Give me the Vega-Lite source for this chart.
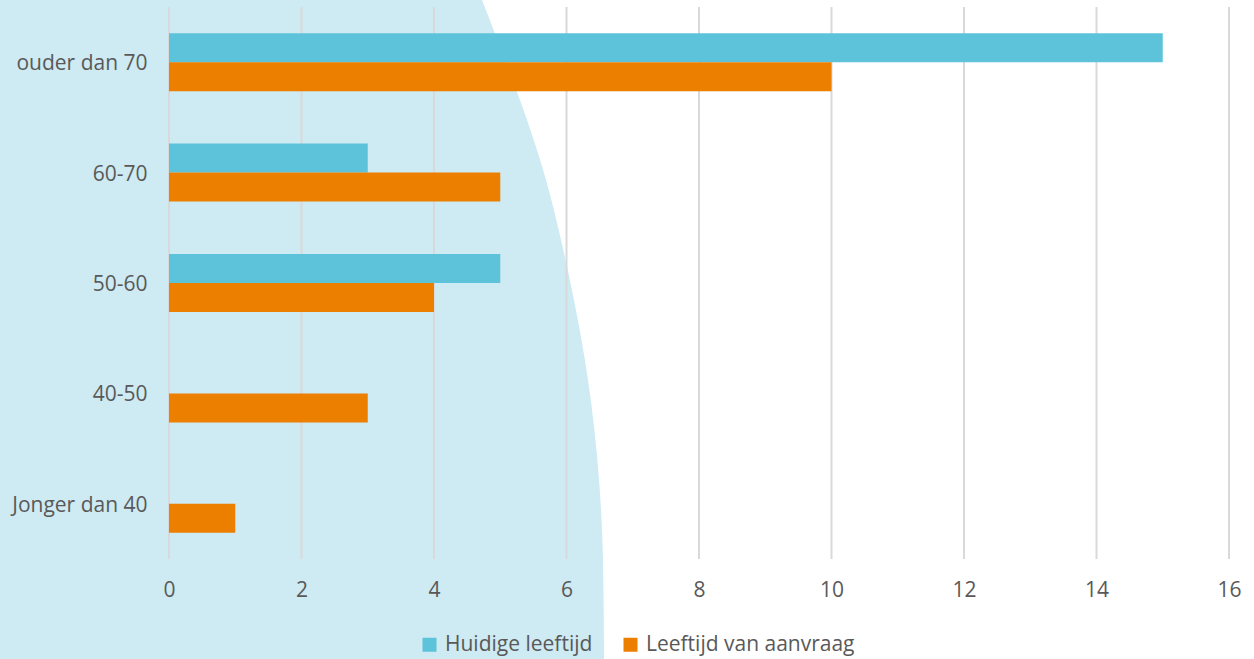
{
  "$schema": "https://vega.github.io/schema/vega-lite/v6.json",
  "width": 1060,
  "height": 552,
  "autosize": {"type": "none"},
  "padding": {"left": 169, "top": 7, "right": 25, "bottom": 100},
  "background": "white",
  "config": {"view": {"stroke": null}, "font": "Open Sans"},
  "datasets": {
    "shape": [
      {"h": 559, "edge": 4.725},
      {"h": 499, "edge": 5.072},
      {"h": 439, "edge": 5.404},
      {"h": 379, "edge": 5.691},
      {"h": 319, "edge": 5.917},
      {"h": 259, "edge": 6.113},
      {"h": 179, "edge": 6.325},
      {"h": 79, "edge": 6.491},
      {"h": -1, "edge": 6.551},
      {"h": -100, "edge": 6.566}
    ],
    "grid": [
      {"v": 0}, {"v": 2}, {"v": 4}, {"v": 6}, {"v": 8}, {"v": 10}, {"v": 12}, {"v": 14}, {"v": 16}
    ],
    "bars": [
      {"group": "ouder dan 70", "series": "Huidige leeftijd", "count": 15},
      {"group": "ouder dan 70", "series": "Leeftijd van aanvraag", "count": 10},
      {"group": "60-70", "series": "Huidige leeftijd", "count": 3},
      {"group": "60-70", "series": "Leeftijd van aanvraag", "count": 5},
      {"group": "50-60", "series": "Huidige leeftijd", "count": 5},
      {"group": "50-60", "series": "Leeftijd van aanvraag", "count": 4},
      {"group": "40-50", "series": "Huidige leeftijd", "count": 0},
      {"group": "40-50", "series": "Leeftijd van aanvraag", "count": 3},
      {"group": "Jonger dan 40", "series": "Huidige leeftijd", "count": 0},
      {"group": "Jonger dan 40", "series": "Leeftijd van aanvraag", "count": 1}
    ]
  },
  "layer": [
    {
      "data": {"name": "shape"},
      "mark": {"type": "area", "orient": "horizontal", "interpolate": "monotone", "color": "#CEEAF2", "clip": false},
      "encoding": {
        "y": {"field": "h", "type": "quantitative", "scale": {"domain": [0, 552], "nice": false, "zero": false}, "axis": null},
        "x": {"field": "edge", "type": "quantitative", "scale": {"domain": [0, 16], "nice": false}},
        "x2": {"datum": -2.7}
      }
    },
    {
      "data": {"name": "grid"},
      "mark": {"type": "rule", "color": "#D9D9D9", "strokeWidth": 2},
      "encoding": {"x": {"field": "v", "type": "quantitative"}}
    },
    {
      "data": {"name": "bars"},
      "mark": {"type": "bar"},
      "encoding": {
        "y": {
          "field": "group", "type": "nominal",
          "sort": ["ouder dan 70", "60-70", "50-60", "40-50", "Jonger dan 40"],
          "scale": {"paddingInner": 0.475, "paddingOuter": 0.2375},
          "axis": {"title": null, "domain": false, "ticks": false, "labelPadding": 22, "labelOffset": 2, "labelFontSize": 21, "labelColor": "#595959", "labelFont": "Open Sans", "zindex": 1, "labelLimit": 200}
        },
        "yOffset": {"field": "series", "type": "nominal", "sort": ["Huidige leeftijd", "Leeftijd van aanvraag"]},
        "x": {
          "field": "count", "type": "quantitative",
          "axis": {"title": null, "grid": false, "domain": false, "ticks": false, "values": [0, 2, 4, 6, 8, 10, 12, 14, 16], "format": "d", "labelFlush": false, "labelPadding": 20, "labelFontSize": 21, "labelColor": "#595959", "labelFont": "Open Sans", "zindex": 1}
        },
        "color": {
          "field": "series", "type": "nominal",
          "scale": {"domain": ["Huidige leeftijd", "Leeftijd van aanvraag"], "range": ["#5DC3DA", "#EC7E00"]},
          "legend": {"title": null, "orient": "none", "legendX": 250, "legendY": 627, "direction": "horizontal", "symbolType": "square", "symbolSize": 196, "symbolStrokeWidth": 0, "labelFontSize": 21, "labelColor": "#595959", "labelFont": "Open Sans", "labelLimit": 300, "columnPadding": 27, "labelOffset": 5, "symbolOpacity": 1, "zindex": 1}
        }
      }
    }
  ],
  "resolve": {"scale": {"y": "independent"}, "axis": {"y": "independent"}}
}
